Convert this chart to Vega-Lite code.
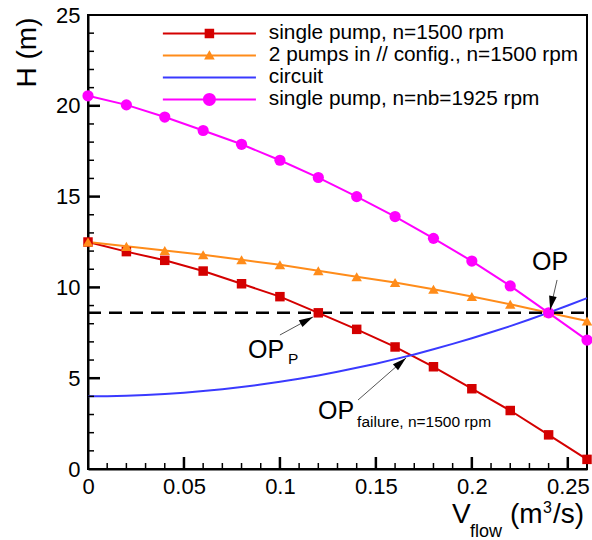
{
  "$schema": "https://vega.github.io/schema/vega-lite/v6.json",
  "width": 499,
  "height": 454,
  "autosize": {"type": "none"},
  "padding": {"left": 88, "top": 15, "right": 5, "bottom": 71},
  "config": {
    "font": "Liberation Sans",
    "view": {"stroke": "black", "strokeWidth": 2},
    "axis": {"grid": false, "labelFlush": false, "labelOverlap": false, "domainColor": "black", "tickColor": "black", "labelColor": "black", "titleColor": "black", "labelFont": "Liberation Sans", "titleFont": "Liberation Sans"}
  },
  "datasets": {
    "curves": [
      {"series": "single pump, n=1500 rpm", "Q": 0, "H": 12.5},
      {"series": "single pump, n=1500 rpm", "Q": 0.02, "H": 11.97},
      {"series": "single pump, n=1500 rpm", "Q": 0.04, "H": 11.49},
      {"series": "single pump, n=1500 rpm", "Q": 0.06, "H": 10.9},
      {"series": "single pump, n=1500 rpm", "Q": 0.08, "H": 10.2},
      {"series": "single pump, n=1500 rpm", "Q": 0.1, "H": 9.49},
      {"series": "single pump, n=1500 rpm", "Q": 0.12, "H": 8.6},
      {"series": "single pump, n=1500 rpm", "Q": 0.14, "H": 7.69},
      {"series": "single pump, n=1500 rpm", "Q": 0.16, "H": 6.72},
      {"series": "single pump, n=1500 rpm", "Q": 0.18, "H": 5.63},
      {"series": "single pump, n=1500 rpm", "Q": 0.2, "H": 4.42},
      {"series": "single pump, n=1500 rpm", "Q": 0.22, "H": 3.22},
      {"series": "single pump, n=1500 rpm", "Q": 0.24, "H": 1.88},
      {"series": "single pump, n=1500 rpm", "Q": 0.26, "H": 0.53},
      {"series": "2 pumps in // config., n=1500 rpm", "Q": 0, "H": 12.5},
      {"series": "2 pumps in // config., n=1500 rpm", "Q": 0.02, "H": 12.26},
      {"series": "2 pumps in // config., n=1500 rpm", "Q": 0.04, "H": 12.03},
      {"series": "2 pumps in // config., n=1500 rpm", "Q": 0.06, "H": 11.8},
      {"series": "2 pumps in // config., n=1500 rpm", "Q": 0.08, "H": 11.52},
      {"series": "2 pumps in // config., n=1500 rpm", "Q": 0.1, "H": 11.25},
      {"series": "2 pumps in // config., n=1500 rpm", "Q": 0.12, "H": 10.92},
      {"series": "2 pumps in // config., n=1500 rpm", "Q": 0.14, "H": 10.59},
      {"series": "2 pumps in // config., n=1500 rpm", "Q": 0.16, "H": 10.27},
      {"series": "2 pumps in // config., n=1500 rpm", "Q": 0.18, "H": 9.9},
      {"series": "2 pumps in // config., n=1500 rpm", "Q": 0.2, "H": 9.5},
      {"series": "2 pumps in // config., n=1500 rpm", "Q": 0.22, "H": 9.07},
      {"series": "2 pumps in // config., n=1500 rpm", "Q": 0.24, "H": 8.6},
      {"series": "2 pumps in // config., n=1500 rpm", "Q": 0.26, "H": 8.15},
      {"series": "circuit", "Q": 0, "H": 4.0},
      {"series": "circuit", "Q": 0.01, "H": 4.01},
      {"series": "circuit", "Q": 0.02, "H": 4.03},
      {"series": "circuit", "Q": 0.03, "H": 4.07},
      {"series": "circuit", "Q": 0.04, "H": 4.13},
      {"series": "circuit", "Q": 0.05, "H": 4.2},
      {"series": "circuit", "Q": 0.06, "H": 4.29},
      {"series": "circuit", "Q": 0.07, "H": 4.39},
      {"series": "circuit", "Q": 0.08, "H": 4.51},
      {"series": "circuit", "Q": 0.09, "H": 4.65},
      {"series": "circuit", "Q": 0.1, "H": 4.8},
      {"series": "circuit", "Q": 0.11, "H": 4.97},
      {"series": "circuit", "Q": 0.12, "H": 5.15},
      {"series": "circuit", "Q": 0.13, "H": 5.35},
      {"series": "circuit", "Q": 0.14, "H": 5.57},
      {"series": "circuit", "Q": 0.15, "H": 5.8},
      {"series": "circuit", "Q": 0.16, "H": 6.05},
      {"series": "circuit", "Q": 0.17, "H": 6.31},
      {"series": "circuit", "Q": 0.18, "H": 6.59},
      {"series": "circuit", "Q": 0.19, "H": 6.89},
      {"series": "circuit", "Q": 0.2, "H": 7.2},
      {"series": "circuit", "Q": 0.21, "H": 7.53},
      {"series": "circuit", "Q": 0.22, "H": 7.87},
      {"series": "circuit", "Q": 0.23, "H": 8.23},
      {"series": "circuit", "Q": 0.24, "H": 8.61},
      {"series": "circuit", "Q": 0.25, "H": 9.0},
      {"series": "circuit", "Q": 0.26, "H": 9.41},
      {"series": "single pump, n=nb=1925 rpm", "Q": 0, "H": 20.55},
      {"series": "single pump, n=nb=1925 rpm", "Q": 0.02, "H": 20.05},
      {"series": "single pump, n=nb=1925 rpm", "Q": 0.04, "H": 19.38},
      {"series": "single pump, n=nb=1925 rpm", "Q": 0.06, "H": 18.64},
      {"series": "single pump, n=nb=1925 rpm", "Q": 0.08, "H": 17.88},
      {"series": "single pump, n=nb=1925 rpm", "Q": 0.1, "H": 17.0},
      {"series": "single pump, n=nb=1925 rpm", "Q": 0.12, "H": 16.05},
      {"series": "single pump, n=nb=1925 rpm", "Q": 0.14, "H": 15.0},
      {"series": "single pump, n=nb=1925 rpm", "Q": 0.16, "H": 13.9},
      {"series": "single pump, n=nb=1925 rpm", "Q": 0.18, "H": 12.7},
      {"series": "single pump, n=nb=1925 rpm", "Q": 0.2, "H": 11.45},
      {"series": "single pump, n=nb=1925 rpm", "Q": 0.22, "H": 10.08},
      {"series": "single pump, n=nb=1925 rpm", "Q": 0.24, "H": 8.6},
      {"series": "single pump, n=nb=1925 rpm", "Q": 0.26, "H": 7.1}
    ],
    "xticks": [
      {"Q": 0.01, "H": 0, "kind": "minor"}, {"Q": 0.02, "H": 0, "kind": "minor"}, {"Q": 0.03, "H": 0, "kind": "minor"}, {"Q": 0.04, "H": 0, "kind": "minor"},
      {"Q": 0.05, "H": 0, "kind": "major"},
      {"Q": 0.06, "H": 0, "kind": "minor"}, {"Q": 0.07, "H": 0, "kind": "minor"}, {"Q": 0.08, "H": 0, "kind": "minor"}, {"Q": 0.09, "H": 0, "kind": "minor"},
      {"Q": 0.1, "H": 0, "kind": "major"},
      {"Q": 0.11, "H": 0, "kind": "minor"}, {"Q": 0.12, "H": 0, "kind": "minor"}, {"Q": 0.13, "H": 0, "kind": "minor"}, {"Q": 0.14, "H": 0, "kind": "minor"},
      {"Q": 0.15, "H": 0, "kind": "major"},
      {"Q": 0.16, "H": 0, "kind": "minor"}, {"Q": 0.17, "H": 0, "kind": "minor"}, {"Q": 0.18, "H": 0, "kind": "minor"}, {"Q": 0.19, "H": 0, "kind": "minor"},
      {"Q": 0.2, "H": 0, "kind": "major"},
      {"Q": 0.21, "H": 0, "kind": "minor"}, {"Q": 0.22, "H": 0, "kind": "minor"}, {"Q": 0.23, "H": 0, "kind": "minor"}, {"Q": 0.24, "H": 0, "kind": "minor"},
      {"Q": 0.25, "H": 0, "kind": "major"}
    ],
    "yticks": [
      {"Q": 0, "H": 1, "kind": "minor"}, {"Q": 0, "H": 2, "kind": "minor"}, {"Q": 0, "H": 3, "kind": "minor"}, {"Q": 0, "H": 4, "kind": "minor"},
      {"Q": 0, "H": 5, "kind": "major"},
      {"Q": 0, "H": 6, "kind": "minor"}, {"Q": 0, "H": 7, "kind": "minor"}, {"Q": 0, "H": 8, "kind": "minor"}, {"Q": 0, "H": 9, "kind": "minor"},
      {"Q": 0, "H": 10, "kind": "major"},
      {"Q": 0, "H": 11, "kind": "minor"}, {"Q": 0, "H": 12, "kind": "minor"}, {"Q": 0, "H": 13, "kind": "minor"}, {"Q": 0, "H": 14, "kind": "minor"},
      {"Q": 0, "H": 15, "kind": "major"},
      {"Q": 0, "H": 16, "kind": "minor"}, {"Q": 0, "H": 17, "kind": "minor"}, {"Q": 0, "H": 18, "kind": "minor"}, {"Q": 0, "H": 19, "kind": "minor"},
      {"Q": 0, "H": 20, "kind": "major"},
      {"Q": 0, "H": 21, "kind": "minor"}, {"Q": 0, "H": 22, "kind": "minor"}, {"Q": 0, "H": 23, "kind": "minor"}, {"Q": 0, "H": 24, "kind": "minor"}
    ],
    "refline": [{"Q": 0, "Q2": 0.26, "H": 8.6}],
    "arrows": [
      {"name": "OP", "Q": 0.2444, "H": 10.41, "Qt": 0.2408, "Ht": 8.76},
      {"name": "OPP", "Q": 0.1, "H": 7.38, "Qt": 0.1172, "Ht": 8.37},
      {"name": "OPF", "Q": 0.1407, "H": 3.8, "Qt": 0.1657, "Ht": 6.11}
    ],
    "notes": [
      {"kind": "op", "text": "OP", "Q": 0.2314, "H": 10.96},
      {"kind": "op", "text": "OP", "Q": 0.0834, "H": 6.11},
      {"kind": "op", "text": "OP", "Q": 0.1199, "H": 2.75},
      {"kind": "sub", "text": "P", "Q": 0.1042, "H": 5.78},
      {"kind": "sub", "text": "failure, n=1500 rpm", "Q": 0.1402, "H": 2.31},
      {"kind": "title", "text": "V", "Q": 0.1897, "H": -2.97},
      {"kind": "title", "text": "(m", "Q": 0.2199, "H": -2.97},
      {"kind": "title", "text": "/s)", "Q": 0.2423, "H": -2.97},
      {"kind": "flow", "text": "flow", "Q": 0.199, "H": -3.74},
      {"kind": "sup", "text": "3", "Q": 0.2371, "H": -2.42}
    ]
  },
  "layer": [
    {
      "data": {"name": "curves"},
      "mark": {"type": "line", "strokeWidth": 2},
      "encoding": {
        "x": {"field": "Q", "type": "quantitative", "scale": {"domain": [0, 0.26], "nice": false, "zero": false},
          "axis": {"orient": "bottom", "values": [0, 0.05, 0.1, 0.15, 0.2, 0.25], "format": "~g", "title": null, "ticks": false, "domainWidth": 2, "labelFontSize": 22, "labelPadding": 7}},
        "y": {"field": "H", "type": "quantitative", "scale": {"domain": [0, 25], "nice": false, "zero": false},
          "axis": {"orient": "left", "values": [0, 5, 10, 15, 20, 25], "title": "H (m)", "titleFontSize": 28, "titleFontWeight": "normal", "titleAngle": 270, "titleAlign": "right", "titleBaseline": "alphabetic", "titleX": -53, "titleY": 2, "ticks": false, "domainWidth": 2, "labelFontSize": 22, "labelPadding": 8}},
        "stroke": {"field": "series", "type": "nominal",
          "scale": {"domain": ["circuit", "single pump, n=1500 rpm", "2 pumps in // config., n=1500 rpm", "single pump, n=nb=1925 rpm"], "range": ["#3a3aff", "#d40000", "#ff8c1a", "#ff00ff"]},
          "legend": null}
      }
    },
    {
      "data": {"name": "xticks"},
      "transform": [{"filter": {"field": "kind", "equal": "major"}}],
      "mark": {"type": "point", "shape": "M-0.104,0H0.104V-1H-0.104Z", "filled": true, "size": 576, "opacity": 1, "color": "black"},
      "encoding": {
        "x": {"field": "Q", "type": "quantitative"},
        "y": {"field": "H", "type": "quantitative"}
      }
    },
    {
      "data": {"name": "xticks"},
      "transform": [{"filter": {"field": "kind", "equal": "minor"}}],
      "mark": {"type": "point", "shape": "M-0.125,0H0.125V-1H-0.125Z", "filled": true, "size": 144, "opacity": 1, "color": "black"},
      "encoding": {
        "x": {"field": "Q", "type": "quantitative"},
        "y": {"field": "H", "type": "quantitative"}
      }
    },
    {
      "data": {"name": "yticks"},
      "transform": [{"filter": {"field": "kind", "equal": "major"}}],
      "mark": {"type": "point", "shape": "M0,-0.104H1V0.104H0Z", "filled": true, "size": 576, "opacity": 1, "color": "black"},
      "encoding": {
        "x": {"field": "Q", "type": "quantitative"},
        "y": {"field": "H", "type": "quantitative"}
      }
    },
    {
      "data": {"name": "yticks"},
      "transform": [{"filter": {"field": "kind", "equal": "minor"}}],
      "mark": {"type": "point", "shape": "M0,-0.125H1V0.125H0Z", "filled": true, "size": 144, "opacity": 1, "color": "black"},
      "encoding": {
        "x": {"field": "Q", "type": "quantitative"},
        "y": {"field": "H", "type": "quantitative"}
      }
    },
    {
      "data": {"name": "refline"},
      "mark": {"type": "rule", "strokeDash": [13, 8], "strokeWidth": 2.5, "color": "black"},
      "encoding": {
        "x": {"field": "Q", "type": "quantitative"},
        "x2": {"field": "Q2"},
        "y": {"field": "H", "type": "quantitative"}
      }
    },
    {
      "data": {"name": "curves"},
      "transform": [{"filter": {"field": "series", "equal": "single pump, n=1500 rpm"}}],
      "mark": {"type": "point", "shape": "square", "filled": true, "size": 90, "opacity": 1, "color": "#d40000"},
      "encoding": {
        "x": {"field": "Q", "type": "quantitative"},
        "y": {"field": "H", "type": "quantitative"}
      }
    },
    {
      "data": {"name": "curves"},
      "transform": [{"filter": {"field": "series", "equal": "2 pumps in // config., n=1500 rpm"}}],
      "mark": {"type": "point", "shape": "triangle-up", "filled": true, "size": 110, "opacity": 1, "color": "#ff8c1a"},
      "encoding": {
        "x": {"field": "Q", "type": "quantitative"},
        "y": {"field": "H", "type": "quantitative"}
      }
    },
    {
      "data": {"name": "curves"},
      "transform": [{"filter": {"field": "series", "equal": "single pump, n=nb=1925 rpm"}}],
      "mark": {"type": "point", "shape": "circle", "filled": true, "size": 125, "opacity": 1, "color": "#ff00ff"},
      "encoding": {
        "x": {"field": "Q", "type": "quantitative"},
        "y": {"field": "H", "type": "quantitative"}
      }
    },
    {
      "data": {"name": "arrows"},
      "mark": {"type": "rule", "color": "#555555", "strokeWidth": 1},
      "encoding": {
        "x": {"field": "Q", "type": "quantitative"},
        "y": {"field": "H", "type": "quantitative"},
        "x2": {"field": "Qt"},
        "y2": {"field": "Ht"}
      }
    },
    {
      "data": {"name": "arrows"},
      "transform": [{"filter": {"field": "name", "equal": "OP"}}],
      "mark": {"type": "point", "shape": "M0,0L0.55,2L-0.55,2Z", "filled": true, "size": 196, "opacity": 1, "color": "black", "angle": 191.3},
      "encoding": {
        "x": {"field": "Qt", "type": "quantitative"},
        "y": {"field": "Ht", "type": "quantitative"}
      }
    },
    {
      "data": {"name": "arrows"},
      "transform": [{"filter": {"field": "name", "equal": "OPP"}}],
      "mark": {"type": "point", "shape": "M0,0L0.55,2L-0.55,2Z", "filled": true, "size": 196, "opacity": 1, "color": "black", "angle": 61.4},
      "encoding": {
        "x": {"field": "Qt", "type": "quantitative"},
        "y": {"field": "Ht", "type": "quantitative"}
      }
    },
    {
      "data": {"name": "arrows"},
      "transform": [{"filter": {"field": "name", "equal": "OPF"}}],
      "mark": {"type": "point", "shape": "M0,0L0.55,2L-0.55,2Z", "filled": true, "size": 196, "opacity": 1, "color": "black", "angle": 48.8},
      "encoding": {
        "x": {"field": "Qt", "type": "quantitative"},
        "y": {"field": "Ht", "type": "quantitative"}
      }
    },
    {
      "data": {"name": "notes"},
      "transform": [{"filter": {"field": "kind", "equal": "op"}}],
      "mark": {"type": "text", "fontSize": 25, "align": "left", "baseline": "alphabetic", "color": "black"},
      "encoding": {
        "x": {"field": "Q", "type": "quantitative"},
        "y": {"field": "H", "type": "quantitative"},
        "text": {"field": "text"}
      }
    },
    {
      "data": {"name": "notes"},
      "transform": [{"filter": {"field": "kind", "equal": "sub"}}],
      "mark": {"type": "text", "fontSize": 15.5, "align": "left", "baseline": "alphabetic", "color": "black"},
      "encoding": {
        "x": {"field": "Q", "type": "quantitative"},
        "y": {"field": "H", "type": "quantitative"},
        "text": {"field": "text"}
      }
    },
    {
      "data": {"name": "notes"},
      "transform": [{"filter": {"field": "kind", "equal": "title"}}],
      "mark": {"type": "text", "fontSize": 28, "align": "left", "baseline": "alphabetic", "color": "black"},
      "encoding": {
        "x": {"field": "Q", "type": "quantitative"},
        "y": {"field": "H", "type": "quantitative"},
        "text": {"field": "text"}
      }
    },
    {
      "data": {"name": "notes"},
      "transform": [{"filter": {"field": "kind", "equal": "flow"}}],
      "mark": {"type": "text", "fontSize": 18, "align": "left", "baseline": "alphabetic", "color": "black"},
      "encoding": {
        "x": {"field": "Q", "type": "quantitative"},
        "y": {"field": "H", "type": "quantitative"},
        "text": {"field": "text"}
      }
    },
    {
      "data": {"name": "notes"},
      "transform": [{"filter": {"field": "kind", "equal": "sup"}}],
      "mark": {"type": "text", "fontSize": 16, "align": "left", "baseline": "alphabetic", "color": "black"},
      "encoding": {
        "x": {"field": "Q", "type": "quantitative"},
        "y": {"field": "H", "type": "quantitative"},
        "text": {"field": "text"}
      }
    },
    {
      "data": {"name": "curves"},
      "transform": [{"filter": {"field": "Q", "equal": 0}}],
      "mark": {"type": "point", "filled": false, "opacity": 0, "strokeWidth": 2},
      "encoding": {
        "x": {"field": "Q", "type": "quantitative"},
        "y": {"field": "H", "type": "quantitative"},
        "color": {"field": "series", "type": "nominal",
          "scale": {"domain": ["single pump, n=1500 rpm", "2 pumps in // config., n=1500 rpm", "circuit", "single pump, n=nb=1925 rpm"], "range": ["#d40000", "#ff8c1a", "#3a3aff", "#ff00ff"]},
          "legend": {"orient": "top-right", "offset": 8, "padding": 0, "title": null, "labelFont": "Liberation Sans", "labelFontSize": 20.8, "labelColor": "black", "labelOffset": 49, "labelLimit": 500, "symbolSize": 324, "symbolStrokeWidth": 2, "symbolOpacity": 1, "rowPadding": 0}},
        "shape": {"field": "series", "type": "nominal",
          "scale": {"domain": ["single pump, n=1500 rpm", "2 pumps in // config., n=1500 rpm", "circuit", "single pump, n=nb=1925 rpm"],
            "range": [
              "M-5.17,0H5.17M-0.417,-0.417H0.417V0.417H-0.417ZM-0.417,-0.2H0.417M-0.417,0.2H0.417",
              "M-5.17,0H5.17M0,-0.356L0.4,0.356L-0.4,0.356ZM-0.116,-0.15H0.116M-0.3,0.18H0.3",
              "M-5.17,0H5.17",
              "M-5.17,0H5.17M0.611,0A0.611,0.611,0,1,1,-0.611,0A0.611,0.611,0,1,1,0.611,0ZM-0.578,-0.2H0.578M-0.578,0.2H0.578M-0.462,-0.4H0.462M-0.462,0.4H0.462"
            ]}}
      }
    }
  ]
}
